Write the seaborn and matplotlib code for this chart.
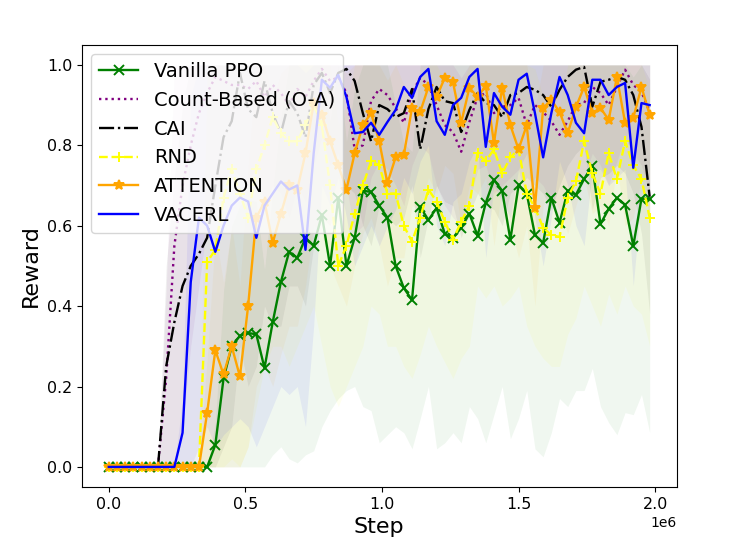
import numpy as np
import pandas as pd
import seaborn as sns
import matplotlib
matplotlib.use('Agg')
import matplotlib.pyplot as plt

# training steps (one eval every 30k steps)
steps = np.arange(0, 2_000_000, 30_000)

# mean reward per method
ppo = [0]*13 + [0.055, 0.22, 0.30, 0.326, 0.333, 0.33, 0.246, 0.36, 0.46, 0.535, 0.52, 0.57, 0.55, 0.627,
                0.50, 0.67, 0.50, 0.57, 0.687, 0.684, 0.65, 0.62, 0.50, 0.445, 0.415, 0.647, 0.614, 0.644,
                0.58, 0.57, 0.595, 0.63, 0.575, 0.657, 0.714, 0.687, 0.565, 0.70, 0.68, 0.577, 0.557, 0.67,
                0.607, 0.687, 0.677, 0.716, 0.749, 0.604, 0.642, 0.669, 0.652, 0.55, 0.667, 0.667]
count = [0]*7 + [0.22, 0.55, 0.70, 0.80, 0.88, 0.93, 0.97, 0.96, 0.95, 0.95, 0.94, 0.96, 0.92, 0.95, 0.93,
                 0.90, 0.94, 0.92, 0.96, 0.99, 0.96, 0.97, 0.93, 0.79, 0.80, 0.91, 0.94, 0.925, 0.893, 0.856,
                 0.93, 0.968, 0.95, 0.90, 0.85, 0.833, 0.784, 0.858, 0.92, 0.93, 0.88, 0.896, 0.90, 0.918,
                 0.85, 0.90, 0.883, 0.86, 0.826, 0.86, 0.90, 0.905, 0.945, 0.93, 0.90, 0.945, 0.988, 0.95,
                 0.933, 0.883]
cai = [0]*7 + [0.25, 0.36, 0.45, 0.50, 0.53, 0.57, 0.70, 0.82, 0.86, 0.98, 0.89, 0.87, 0.96, 0.88, 0.83,
               0.91, 0.88, 0.82, 0.95, 0.98, 0.93, 0.98, 0.99, 0.96, 0.88, 0.81, 0.90, 0.89, 0.87, 0.88, 0.94,
               0.79, 0.89, 0.945, 0.91, 0.905, 0.833, 0.888, 0.93, 0.905, 0.90, 0.87, 0.925, 0.93, 0.945,
               0.938, 0.925, 0.896, 0.938, 0.97, 0.988, 0.995, 0.896, 0.958, 0.963, 0.97, 0.963, 0.925,
               0.846, 0.672]
rnd = [0]*12 + [0.51, 0.54, 0.67, 0.74, 0.68, 0.62, 0.74, 0.80, 0.87, 0.83, 0.81, 0.81, 0.85, 0.90, 0.85,
                0.70, 0.50, 0.55, 0.63, 0.70, 0.76, 0.75, 0.68, 0.68, 0.60, 0.56, 0.62, 0.69, 0.66, 0.61,
                0.565, 0.61, 0.65, 0.78, 0.76, 0.79, 0.73, 0.77, 0.79, 0.68, 0.645, 0.595, 0.577, 0.572,
                0.67, 0.71, 0.81, 0.73, 0.68, 0.78, 0.716, 0.81, 0.75, 0.716, 0.62]
attention = [0]*12 + [0.135, 0.29, 0.23, 0.30, 0.225, 0.40, 0.62, 0.66, 0.557, 0.63, 0.70, 0.69, 0.78,
                      0.905, 0.875, 0.81, 0.75, 0.69, 0.78, 0.85, 0.88, 0.81, 0.706, 0.77, 0.776, 0.893,
                      0.883, 0.945, 0.92, 0.968, 0.957, 0.856, 0.943, 0.92, 0.948, 0.806, 0.943, 0.85, 0.79,
                      0.85, 0.645, 0.893, 0.913, 0.883, 0.83, 0.895, 0.945, 0.88, 0.893, 0.863, 0.97, 0.856,
                      0.868, 0.945, 0.876]
vacerl = [0]*9 + [0.085, 0.46, 0.62, 0.60, 0.535, 0.60, 0.65, 0.67, 0.66, 0.57, 0.65, 0.68, 0.71, 0.69,
                  0.70, 0.54, 0.78, 0.963, 0.943, 0.975, 0.92, 0.83, 0.833, 0.856, 0.826, 0.858, 0.888, 0.945,
                  0.918, 0.97, 0.99, 0.86, 0.826, 0.90, 0.918, 0.97, 0.99, 0.796, 0.93, 0.896, 0.876, 0.963,
                  0.978, 0.88, 0.77, 0.88, 0.97, 0.925, 0.856, 0.83, 0.963, 0.963, 0.925, 0.945, 0.955,
                  0.744, 0.905, 0.90]

# lower edge of each shaded band (mean - std)
ppo_lo = [0]*20 + [0.03, 0.05, 0.02, 0.01, 0.03, 0.04, 0.1, 0.14, 0.17, 0.19, 0.2, 0.15, 0.14, 0.06, 0.08,
                   0.1, 0.085, 0.045, 0.12, 0.2, 0.045, 0.06, 0.085, 0.06, 0.15, 0.12, 0.06, 0.13, 0.2, 0.07,
                   0.12, 0.19, 0.045, 0.025, 0.085, 0.17, 0.15, 0.19, 0.19, 0.245, 0.15, 0.11, 0.08, 0.135,
                   0.13, 0.18, 0.085]
count_lo = [0]*9 + [0.1, 0.3, 0.45, 0.6, 0.7, 0.7, 0.75, 0.72, 0.7, 0.75, 0.65, 0.7, 0.68, 0.62, 0.7, 0.66,
                    0.75, 0.82, 0.75, 0.78, 0.7, 0.58, 0.6, 0.72, 0.76, 0.74, 0.7, 0.65, 0.75, 0.8, 0.78, 0.7,
                    0.65, 0.62, 0.6, 0.66, 0.74, 0.75, 0.68, 0.7, 0.72, 0.74, 0.66, 0.72, 0.7, 0.66, 0.62,
                    0.68, 0.72, 0.72, 0.78, 0.75, 0.7, 0.76, 0.82, 0.78, 0.75, 0.68]
cai_lo = [0]*14 + [0.05, 0.1, 0.3, 0.2, 0.25, 0.4, 0.35, 0.35, 0.45, 0.45, 0.4, 0.55, 0.62, 0.6, 0.68, 0.7,
                   0.68, 0.6, 0.55, 0.65, 0.62, 0.6, 0.62, 0.7, 0.52, 0.62, 0.7, 0.66, 0.65, 0.57, 0.63, 0.68,
                   0.65, 0.64, 0.6, 0.68, 0.7, 0.72, 0.7, 0.68, 0.64, 0.7, 0.75, 0.78, 0.8, 0.64, 0.72, 0.73,
                   0.75, 0.73, 0.68, 0.58, 0.38]
rnd_lo = [0]*15 + [0.02, 0.0, 0.05, 0.15, 0.25, 0.3, 0.3, 0.25, 0.3, 0.35, 0.4, 0.3, 0.2, 0.15, 0.2, 0.25,
                   0.3, 0.4, 0.38, 0.3, 0.3, 0.25, 0.22, 0.28, 0.35, 0.3, 0.26, 0.22, 0.27, 0.3, 0.45, 0.42,
                   0.45, 0.4, 0.42, 0.45, 0.35, 0.3, 0.27, 0.25, 0.25, 0.33, 0.37, 0.45, 0.4, 0.35, 0.43,
                   0.38, 0.45, 0.4, 0.38, 0.3]
attention_lo = [0]*17 + [0.05, 0.2, 0.25, 0.2, 0.28, 0.35, 0.35, 0.45, 0.6, 0.58, 0.5, 0.45, 0.4, 0.5,
                         0.58, 0.62, 0.55, 0.45, 0.52, 0.52, 0.65, 0.64, 0.72, 0.68, 0.75, 0.73, 0.6, 0.7,
                         0.68, 0.72, 0.55, 0.7, 0.6, 0.52, 0.6, 0.4, 0.65, 0.68, 0.64, 0.58, 0.65, 0.72,
                         0.63, 0.65, 0.6, 0.75, 0.6, 0.62, 0.72, 0.62]
vacerl_lo = [0]*11 + [0.05, 0.1, 0.05, 0.08, 0.1, 0.12, 0.1, 0.05, 0.1, 0.15, 0.2, 0.18, 0.2, 0.1, 0.35,
                      0.7, 0.65, 0.72, 0.62, 0.5, 0.55, 0.6, 0.55, 0.6, 0.64, 0.72, 0.68, 0.76, 0.8, 0.6,
                      0.55, 0.66, 0.68, 0.76, 0.8, 0.52, 0.7, 0.66, 0.62, 0.74, 0.78, 0.62, 0.5, 0.62, 0.76,
                      0.7, 0.6, 0.55, 0.74, 0.74, 0.7, 0.72, 0.74, 0.45, 0.68, 0.66]

methods = [
    # label, mean, lower, color, linestyle, marker
    ('Vanilla PPO', ppo, ppo_lo, 'green', '-', 'x'),
    ('Count-Based (O-A)', count, count_lo, 'purple', ':', None),
    ('CAI', cai, cai_lo, 'black', '-.', None),
    ('RND', rnd, rnd_lo, 'yellow', '--', '+'),
    ('ATTENTION', attention, attention_lo, 'orange', '-', '*'),
    ('VACERL', vacerl, vacerl_lo, 'blue', '-', None),
]

fig, ax = plt.subplots(figsize=(7.3, 5.46), dpi=100)
plt.subplots_adjust(left=0.112, right=0.927, top=0.918, bottom=0.108)

handles = []
for label, mean, lo, color, ls, mk in methods:
    df = pd.DataFrame({'step': steps, 'reward': mean, 'lo': lo})
    std = df['reward'] - df['lo']
    hi = np.minimum(df['reward'] + std, 1.0)
    n_before = len(ax.lines)
    sns.lineplot(data=df, x='step', y='reward', ax=ax, color=color, linestyle=ls,
                 marker=mk, markersize=7, markeredgewidth=1.4, markeredgecolor=color,
                 markerfacecolor=color, linewidth=1.7, legend=False)
    line = ax.lines[n_before]
    line.set_label(label)
    handles.append(line)
    ax.fill_between(df['step'], df['lo'], hi, color=color, alpha=0.06, linewidth=0)

#formatting
ax.set_xticks([0, 500_000, 1_000_000, 1_500_000, 2_000_000])
ax.set_xlabel('Step', fontsize=16)
ax.set_ylabel('Reward', fontsize=16)
ax.tick_params(labelsize=11.4)
ax.legend(handles=handles, loc='upper left', fontsize=14)

plt.savefig('out.png', dpi=100)
